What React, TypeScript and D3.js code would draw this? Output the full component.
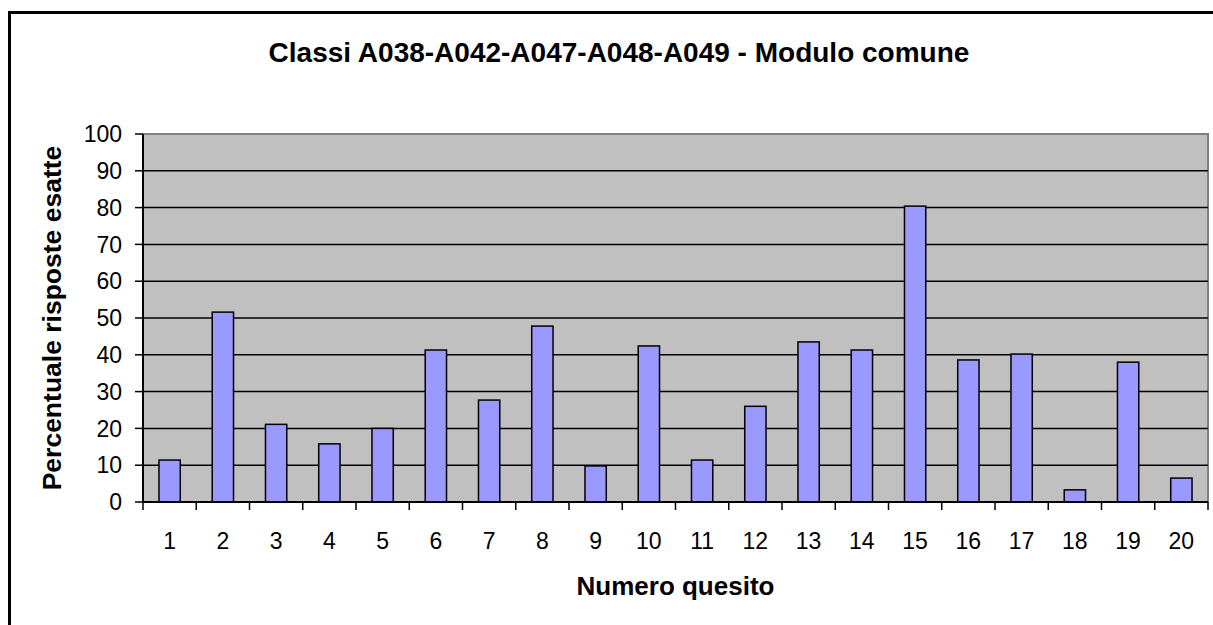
import React, { useEffect, useRef } from "react";
import * as d3 from "d3";

// values
const categories = ["1", "2", "3", "4", "5", "6", "7", "8", "9", "10", "11", "12", "13", "14", "15", "16", "17", "18", "19", "20"];
const percentuali = [11.4, 51.6, 21.1, 15.8, 20, 41.3, 27.7, 47.8, 9.8, 42.4, 11.4, 26, 43.5, 41.3, 80.4, 38.6, 40.2, 3.3, 38, 6.5];
const yTicks = [0, 10, 20, 30, 40, 50, 60, 70, 80, 90, 100];

const title = "Classi A038-A042-A047-A048-A049 - Modulo comune";
const xTitle = "Numero quesito";
const yTitle = "Percentuale risposte esatte";

const W = 1213;
const H = 625;

export default function App() {
  const ref = useRef<SVGSVGElement>(null);

  useEffect(() => {
    const svg = d3.select(ref.current);
    svg.selectAll("*").remove();

    const left = 143, right = 1208, top = 134, bottom = 502;

    const x = d3.scaleBand().domain(categories).range([left, right]).paddingInner(0.6).paddingOuter(0.3);
    const xTick = d3.scaleLinear().domain([0, categories.length]).range([left, right]);
    const y = d3.scaleLinear().domain([0, 100]).range([bottom, top]);

    // chart frame (runs off the right and bottom of the picture)
    svg.append("rect")
      .attr("x", 9.5).attr("y", 12.5)
      .attr("width", 1240).attr("height", 640)
      .attr("fill", "white").attr("stroke", "black").attr("stroke-width", 3);

    // plot area
    svg.append("rect")
      .attr("x", left).attr("y", top)
      .attr("width", right - left).attr("height", bottom - top)
      .attr("fill", "#c0c0c0").attr("stroke", "#808080").attr("stroke-width", 2);

    // gridlines
    svg.append("g")
      .selectAll("line")
      .data(yTicks.filter((t) => t > 0 && t < 100))
      .join("line")
      .attr("x1", left).attr("x2", right)
      .attr("y1", (d) => y(d)).attr("y2", (d) => y(d))
      .attr("stroke", "black").attr("stroke-width", 1.5);

    // bars
    svg.append("g")
      .selectAll("rect")
      .data(percentuali)
      .join("rect")
      .attr("x", (d, i) => x(categories[i])!)
      .attr("y", (d) => y(d))
      .attr("width", x.bandwidth())
      .attr("height", (d) => y(0) - y(d))
      .attr("fill", "#9999ff")
      .attr("stroke", "black").attr("stroke-width", 1.5);

    // y axis
    const yAxis = svg.append("g");
    yAxis.append("line")
      .attr("x1", left).attr("x2", left).attr("y1", top).attr("y2", bottom)
      .attr("stroke", "black").attr("stroke-width", 2);
    yAxis.selectAll("line.tick")
      .data(yTicks)
      .join("line")
      .attr("class", "tick")
      .attr("x1", left - 8).attr("x2", left)
      .attr("y1", (d) => y(d)).attr("y2", (d) => y(d))
      .attr("stroke", "black").attr("stroke-width", 1.5);
    yAxis.selectAll("text")
      .data(yTicks)
      .join("text")
      .attr("x", 122).attr("y", (d) => y(d))
      .attr("dy", "0.36em")
      .attr("text-anchor", "end")
      .attr("font-size", 23)
      .text((d) => d);

    // x axis
    const xAxis = svg.append("g");
    xAxis.append("line")
      .attr("x1", left).attr("x2", right).attr("y1", bottom).attr("y2", bottom)
      .attr("stroke", "black").attr("stroke-width", 2);
    xAxis.selectAll("line.tick")
      .data(d3.range(categories.length + 1))
      .join("line")
      .attr("class", "tick")
      .attr("x1", (d) => xTick(d)).attr("x2", (d) => xTick(d))
      .attr("y1", bottom).attr("y2", bottom + 8)
      .attr("stroke", "black").attr("stroke-width", 1.5);
    xAxis.selectAll("text")
      .data(categories)
      .join("text")
      .attr("x", (d) => x(d)! + x.bandwidth() / 2)
      .attr("y", 549)
      .attr("text-anchor", "middle")
      .attr("font-size", 23)
      .text((d) => d);

    // titles
    svg.append("text")
      .attr("x", 619).attr("y", 62)
      .attr("text-anchor", "middle")
      .attr("font-size", 28).attr("font-weight", "bold")
      .text(title);

    svg.append("text")
      .attr("x", (left + right) / 2).attr("y", 595)
      .attr("text-anchor", "middle")
      .attr("font-size", 26).attr("font-weight", "bold")
      .text(xTitle);

    svg.append("text")
      .attr("transform", `translate(61,${(top + bottom) / 2}) rotate(-90)`)
      .attr("text-anchor", "middle")
      .attr("font-size", 26.5).attr("font-weight", "bold")
      .text(yTitle);
  }, []);

  return (
    <svg
      ref={ref}
      width={W}
      height={H}
      style={{ position: "absolute", left: 0, top: 0, fontFamily: "Arial, 'Liberation Sans', sans-serif" }}
    />
  );
}
